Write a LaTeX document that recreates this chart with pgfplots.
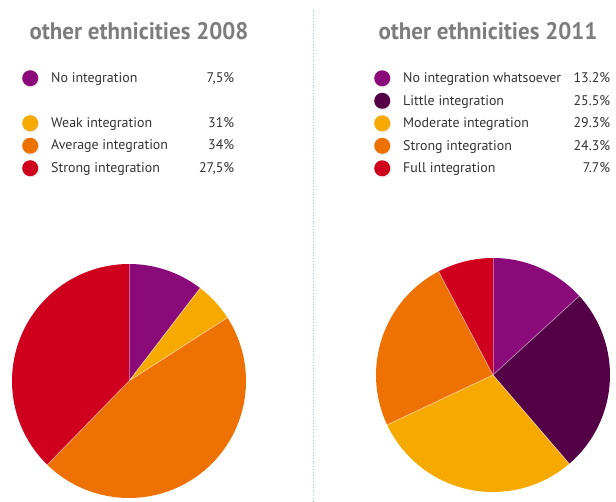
\documentclass[border=0pt]{standalone}
\usepackage{pgfplots}
\pgfplotsset{compat=1.18}
\usepackage{pgfplotstable}
\usepackage{fontspec}
\setmainfont{PT Sans}
\newfontfamily\titlefont[FakeStretch=0.96]{PT Sans}

\definecolor{cpurple}{RGB}{138,10,122}
\definecolor{cdark}{RGB}{84,0,70}
\definecolor{cyellow}{RGB}{246,170,0}
\definecolor{corange}{RGB}{238,114,3}
\definecolor{cred}{RGB}{207,0,30}
\definecolor{titlegray}{RGB}{125,125,125}
\definecolor{legtext}{RGB}{50,50,50}
\definecolor{sepline}{RGB}{160,196,210}

% pie slices: cumulative percentages, clockwise from the top
\pgfplotstableread{
x y from to col
0 0 0 10.4 cpurple
0 0 10.4 15.9 cyellow
0 0 15.9 62.3 corange
0 0 62.3 100 cred
}\pieA

\pgfplotstableread{
x y from to col
0 0 0 13.2 cpurple
0 0 13.2 38.7 cdark
0 0 38.7 68.0 cyellow
0 0 68.0 92.3 corange
0 0 92.3 100 cred
}\pieB

\pgfdeclareplotmark{wedge}{%
  \pgfkeys{/pgf/fpu=true,/pgf/fpu/output format=fixed}%
  \pgfmathparse{90-3.6*\fromv}\let\angA\pgfmathresult
  \pgfmathparse{90-3.6*\tov}\let\angB\pgfmathresult
  \pgfkeys{/pgf/fpu=false}%
  \pgfpathmoveto{\pgfpointorigin}%
  \pgfpathlineto{\pgfpointpolar{\angA}{117bp}}%
  \pgfpatharc{\angA}{\angB}{117bp}%
  \pgfpathclose
  \pgfusepath{fill}%
  \pgfsetstrokecolor{white}%
  \pgfsetstrokeopacity{0.45}%
  \pgfsetlinewidth{0.8bp}%
  \pgfpathmoveto{\pgfpointorigin}%
  \pgfpathlineto{\pgfpointpolar{\angA}{117bp}}%
  \pgfusepath{stroke}%
}

\pgfplotsset{
  pie/.style={
    x=117bp, y=117bp, xmin=-1, xmax=1, ymin=-1, ymax=1,
    hide axis, clip=false, anchor=south west,
    legend cell align=left,
    legend image code/.code={%
      \fill[black, opacity=0.08, draw=none] (8.6bp,-0.9bp) circle[radius=8.6bp];
      \fill[##1, draw=none] (8bp,0bp) circle[radius=8bp];
      \path[draw=none] (29bp,0bp);},
    legend style={draw=none, fill=none, inner sep=0pt, anchor=north west,
      row sep=5bp,
      nodes={inner sep=0pt, text=legtext, font=\fontsize{14}{16}\selectfont},
      /tikz/every even column/.append style={column sep=0pt}},
  },
  slices/.style={scatter, only marks, mark=wedge, forget plot,
    point meta=explicit symbolic,
    scatter/classes={cpurple={fill=cpurple,draw=none}, cdark={fill=cdark,draw=none},
      cyellow={fill=cyellow,draw=none}, corange={fill=corange,draw=none},
      cred={fill=cred,draw=none}},
    visualization depends on={\thisrow{from}\as\fromv},
    visualization depends on={\thisrow{to}\as\tov}},
}

\begin{document}
\begin{tikzpicture}
\useasboundingbox (0,0) rectangle (616bp,502bp);

\draw[sepline, dotted, line width=0.9bp] (313.5bp,0) -- (313.5bp,492bp);

\node[anchor=base, text=titlegray, font=\titlefont\bfseries\fontsize{24}{28}\selectfont]
  at (139bp,462bp) {other ethnicities 2008};
\node[anchor=base, text=titlegray, font=\titlefont\bfseries\fontsize{24}{28}\selectfont]
  at (488bp,462bp) {other ethnicities 2011};

\begin{axis}[pie, at={(12bp,4bp)},
  legend style={at={(axis cs:-0.9145,2.658)}}]
\addplot[slices] table[x=x,y=y,meta=col] {\pieA};
\addlegendimage{fill=cpurple}
\addlegendentry{\makebox[183bp]{No integration\hfill 7,5\%}}
\addlegendimage{legend image code/.code={\path[draw=none,fill=none] (0bp,-9.5bp) rectangle (29bp,8bp);}}
\addlegendentry{}
\addlegendimage{fill=cyellow}
\addlegendentry{\makebox[183bp]{Weak integration\hfill 31\%}}
\addlegendimage{fill=corange}
\addlegendentry{\makebox[183bp]{Average integration\hfill 34\%}}
\addlegendimage{fill=cred}
\addlegendentry{\makebox[183bp]{Strong integration\hfill 27,5\%}}
\end{axis}

\begin{axis}[pie, at={(376bp,10bp)},
  legend style={at={(axis cs:-1.017,2.606)}}]
\addplot[slices] table[x=x,y=y,meta=col] {\pieB};
\addlegendimage{fill=cpurple}
\addlegendentry{\makebox[207bp]{No integration whatsoever\hfill 13.2\%}}
\addlegendimage{fill=cdark}
\addlegendentry{\makebox[207bp]{Little integration\hfill 25.5\%}}
\addlegendimage{fill=cyellow}
\addlegendentry{\makebox[207bp]{Moderate integration\hfill 29.3\%}}
\addlegendimage{fill=corange}
\addlegendentry{\makebox[207bp]{Strong integration\hfill 24.3\%}}
\addlegendimage{fill=cred}
\addlegendentry{\makebox[207bp]{Full integration\hfill 7.7\%}}
\end{axis}
\end{tikzpicture}
\end{document}
